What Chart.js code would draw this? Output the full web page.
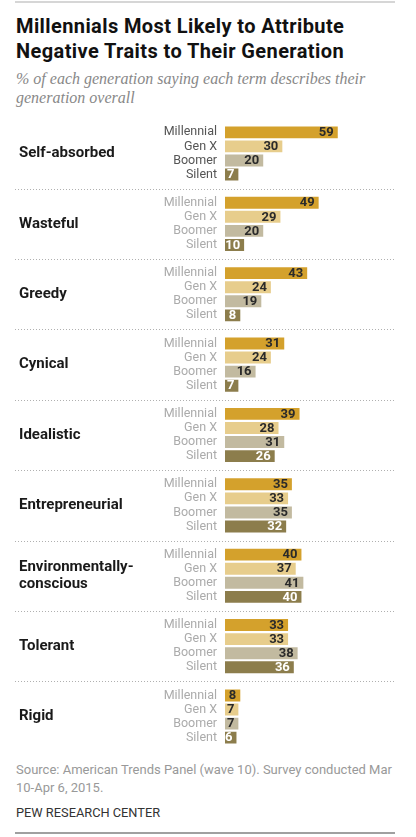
<!DOCTYPE html>
<html>
<head>
<meta charset="utf-8">
<script src="https://cdn.jsdelivr.net/npm/chart.js@4.4.1/dist/chart.umd.min.js"></script>
<style>
  body { margin: 0; background: #fff; }
  #page { position: relative; width: 416px; height: 837px; overflow: hidden; font-family: Roboto, "Liberation Sans", sans-serif; }
  .rule { position: absolute; left: 15px; width: 380px; }
  #title { position: absolute; left: 16px; top: 14px; font-size: 20px; font-weight: 700; letter-spacing: 0.4px; line-height: 24.5px; color: #111; }
  #subtitle { position: absolute; left: 16px; top: 69px; font-family: "Liberation Serif", serif; font-style: italic; font-size: 16px; line-height: 19px; color: #888; }
  #chartBox { position: absolute; left: 0; top: 110px; width: 416px; height: 650px; }
  #source { position: absolute; left: 16px; top: 761px; font-size: 13px; line-height: 17.5px; color: #999; }
  #credit { position: absolute; left: 16px; top: 805px; font-size: 12.8px; color: #333; }
</style>
</head>
<body>
<div id="page">
  <div class="rule" style="top:1px;height:2px;background:#d6d6d6"></div>
  <div id="title">Millennials Most Likely to Attribute<br>Negative Traits to Their Generation</div>
  <div id="subtitle">% of each generation saying each term describes their<br>generation overall</div>
  <div id="chartBox"><canvas id="myChart"></canvas></div>
  <div id="source">Source: American Trends Panel (wave 10). Survey conducted Mar<br>10-Apr 6, 2015.</div>
  <div id="credit">PEW RESEARCH CENTER</div>
  <div class="rule" style="top:832px;height:2px;background:#a0a0a0"></div>
</div>
<script>
const traits = ["Self-absorbed", "Wasteful", "Greedy", "Cynical", "Idealistic", "Entrepreneurial", ["Environmentally-", "conscious"], "Tolerant", "Rigid"];
const generations = ["Millennial", "Gen X", "Boomer", "Silent"];
const millennial = [59, 49, 43, 31, 39, 35, 40, 33, 8];
const genX = [30, 29, 24, 24, 28, 33, 37, 33, 7];
const boomer = [20, 20, 19, 16, 31, 35, 41, 38, 7];
const silent = [7, 10, 8, 7, 26, 32, 40, 36, 6];

const barColors = ["#d4a12c", "#e7cd8c", "#c2baa0", "#8c7d4c"];
const valueColors = ["#2a2a2a", "#2a2a2a", "#2a2a2a", "#ffffff"];

// value labels, generation labels and dotted separators
const labelsPlugin = {
  id: "labels",
  afterDraw(chart) {
    const ctx = chart.ctx;
    const y = chart.scales.y;
    ctx.save();
    // separators
    ctx.strokeStyle = "#b0b0b0";
    ctx.lineWidth = 1;
    ctx.setLineDash([1, 2]);
    for (let i = 0; i < traits.length - 1; i++) {
      const py = Math.round((y.getPixelForValue(i) + y.getPixelForValue(i + 1)) / 2) + 0.5;
      ctx.beginPath();
      ctx.moveTo(15, py);
      ctx.lineTo(395, py);
      ctx.stroke();
    }
    ctx.setLineDash([]);
    ctx.textBaseline = "middle";
    chart.data.datasets.forEach((ds, d) => {
      const meta = chart.getDatasetMeta(d);
      meta.data.forEach((bar, i) => {
        ctx.textAlign = "right";
        ctx.font = "12.5px Roboto, sans-serif";
        ctx.fillStyle = i === 0 ? "#555" : "#ababab";
        ctx.fillText(generations[d], 217, bar.y);
        ctx.font = "bold 13px Roboto, sans-serif";
        ctx.fillStyle = valueColors[d];
        ctx.fillText(ds.data[i], bar.x - 4, bar.y + 0.5);
      });
    });
    ctx.restore();
  },
};

new Chart(document.getElementById("myChart"), {
  type: "bar",
  data: {
    labels: traits,
    datasets: [
      { label: generations[0], data: millennial, backgroundColor: barColors[0] },
      { label: generations[1], data: genX, backgroundColor: barColors[1] },
      { label: generations[2], data: boomer, backgroundColor: barColors[2] },
      { label: generations[3], data: silent, backgroundColor: barColors[3] },
    ],
  },
  options: {
    indexAxis: "y",
    responsive: true,
    maintainAspectRatio: false,
    animation: false,
    categoryPercentage: 0.8,
    barPercentage: 0.845,
    layout: { padding: { left: 19, right: 19, top: 5.5, bottom: 5.5 } },
    scales: {
      x: { display: false, min: 0, max: 90 },
      y: {
        grid: { display: false },
        border: { display: false },
        afterFit: (scale) => { scale.width = 206; },
        ticks: {
          crossAlign: "far",
          padding: 0,
          color: "#1a1a1a",
          font: { family: "Roboto, sans-serif", size: 15, weight: "bold", lineHeight: 1.1 },
        },
      },
    },
    plugins: { legend: { display: false }, tooltip: { enabled: false } },
  },
  plugins: [labelsPlugin],
});
</script>
</body>
</html>
